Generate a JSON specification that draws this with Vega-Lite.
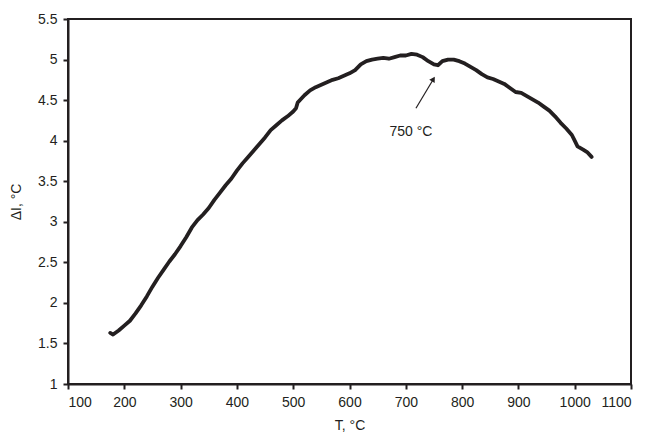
{
  "$schema": "https://vega.github.io/schema/vega-lite/v6.json",
  "autosize": {"type": "none"},
  "width": 563,
  "height": 365,
  "padding": {"left": 68, "top": 19, "right": 19, "bottom": 57},
  "background": "white",
  "config": {
    "font": "Liberation Sans",
    "view": {"stroke": "#231f20", "strokeWidth": 2},
    "axis": {
      "grid": false,
      "domainColor": "#231f20",
      "domainWidth": 2,
      "tickColor": "#231f20",
      "tickWidth": 2,
      "tickSize": 5,
      "labelFont": "Liberation Sans",
      "labelFontSize": 14,
      "labelColor": "#231f20",
      "titleFont": "Liberation Sans",
      "titleFontSize": 14,
      "titleFontWeight": "normal",
      "titleColor": "#231f20"
    }
  },
  "datasets": {
    "curve": [
      {"T": 175, "v": 1.63}, {"T": 180, "v": 1.61}, {"T": 190, "v": 1.66}, {"T": 200, "v": 1.72},
      {"T": 210, "v": 1.78}, {"T": 220, "v": 1.87}, {"T": 230, "v": 1.97}, {"T": 240, "v": 2.08},
      {"T": 250, "v": 2.2}, {"T": 260, "v": 2.31}, {"T": 270, "v": 2.41}, {"T": 280, "v": 2.51},
      {"T": 290, "v": 2.6}, {"T": 300, "v": 2.7}, {"T": 310, "v": 2.81}, {"T": 320, "v": 2.93},
      {"T": 330, "v": 3.02}, {"T": 340, "v": 3.09}, {"T": 350, "v": 3.17}, {"T": 360, "v": 3.27},
      {"T": 370, "v": 3.36}, {"T": 380, "v": 3.45}, {"T": 390, "v": 3.53}, {"T": 400, "v": 3.63},
      {"T": 410, "v": 3.72}, {"T": 420, "v": 3.8}, {"T": 430, "v": 3.88}, {"T": 440, "v": 3.96},
      {"T": 450, "v": 4.04}, {"T": 460, "v": 4.13}, {"T": 470, "v": 4.19}, {"T": 480, "v": 4.25},
      {"T": 490, "v": 4.3}, {"T": 500, "v": 4.36}, {"T": 505, "v": 4.4}, {"T": 508, "v": 4.47},
      {"T": 520, "v": 4.56}, {"T": 530, "v": 4.62}, {"T": 540, "v": 4.66}, {"T": 550, "v": 4.69},
      {"T": 560, "v": 4.72}, {"T": 570, "v": 4.75}, {"T": 580, "v": 4.77}, {"T": 590, "v": 4.8},
      {"T": 600, "v": 4.83}, {"T": 610, "v": 4.87}, {"T": 620, "v": 4.94}, {"T": 630, "v": 4.98},
      {"T": 640, "v": 5.0}, {"T": 650, "v": 5.01}, {"T": 660, "v": 5.02}, {"T": 670, "v": 5.01},
      {"T": 680, "v": 5.03}, {"T": 690, "v": 5.05}, {"T": 700, "v": 5.05}, {"T": 710, "v": 5.07},
      {"T": 720, "v": 5.06}, {"T": 730, "v": 5.03}, {"T": 740, "v": 4.98}, {"T": 750, "v": 4.94},
      {"T": 757, "v": 4.93}, {"T": 765, "v": 4.98}, {"T": 775, "v": 5.0}, {"T": 785, "v": 5.0},
      {"T": 795, "v": 4.98}, {"T": 805, "v": 4.95}, {"T": 815, "v": 4.91}, {"T": 825, "v": 4.87},
      {"T": 835, "v": 4.82}, {"T": 845, "v": 4.78}, {"T": 855, "v": 4.76}, {"T": 865, "v": 4.73},
      {"T": 875, "v": 4.7}, {"T": 885, "v": 4.65}, {"T": 895, "v": 4.6}, {"T": 905, "v": 4.59},
      {"T": 915, "v": 4.55}, {"T": 925, "v": 4.51}, {"T": 935, "v": 4.47}, {"T": 945, "v": 4.42},
      {"T": 955, "v": 4.37}, {"T": 965, "v": 4.3}, {"T": 975, "v": 4.22}, {"T": 985, "v": 4.15},
      {"T": 995, "v": 4.07}, {"T": 1000, "v": 4.0}, {"T": 1005, "v": 3.93}, {"T": 1015, "v": 3.89},
      {"T": 1022, "v": 3.86}, {"T": 1030, "v": 3.8}
    ],
    "arrow": [{"T1": 718, "v1": 4.4, "T2": 750, "v2": 4.77}],
    "head": [{"T": 749, "v": 4.76}],
    "label": [{"T": 709, "v": 4.11, "text": "750 °C"}]
  },
  "layer": [
    {
      "data": {"name": "curve"},
      "mark": {"type": "line", "color": "#231f20", "strokeWidth": 3.8, "strokeJoin": "round", "strokeCap": "round"},
      "encoding": {
        "x": {"field": "T", "type": "quantitative", "title": "T, °C",
              "scale": {"domain": [100, 1100], "nice": false, "zero": false},
              "axis": {"values": [100, 200, 300, 400, 500, 600, 700, 800, 900, 1000, 1100], "format": "d", "labelPadding": 6, "titlePadding": 9}},
        "y": {"field": "v", "type": "quantitative", "title": "ΔI, °C",
              "scale": {"domain": [1, 5.5], "nice": false, "zero": false},
              "axis": {"values": [1, 1.5, 2, 2.5, 3, 3.5, 4, 4.5, 5, 5.5], "format": "~g", "labelPadding": 6, "titlePadding": 14}}
      }
    },
    {
      "data": {"name": "arrow"},
      "mark": {"type": "rule", "color": "#231f20", "strokeWidth": 1.2},
      "encoding": {
        "x": {"field": "T1", "type": "quantitative"},
        "y": {"field": "v1", "type": "quantitative"},
        "x2": {"field": "T2"},
        "y2": {"field": "v2"}
      }
    },
    {
      "data": {"name": "head"},
      "mark": {"type": "point", "shape": "triangle-up", "filled": true, "color": "#231f20", "size": 40, "angle": 31, "opacity": 1},
      "encoding": {
        "x": {"field": "T", "type": "quantitative"},
        "y": {"field": "v", "type": "quantitative"}
      }
    },
    {
      "data": {"name": "label"},
      "mark": {"type": "text", "font": "Liberation Sans", "fontSize": 14, "color": "#231f20"},
      "encoding": {
        "x": {"field": "T", "type": "quantitative"},
        "y": {"field": "v", "type": "quantitative"},
        "text": {"field": "text"}
      }
    }
  ]
}
